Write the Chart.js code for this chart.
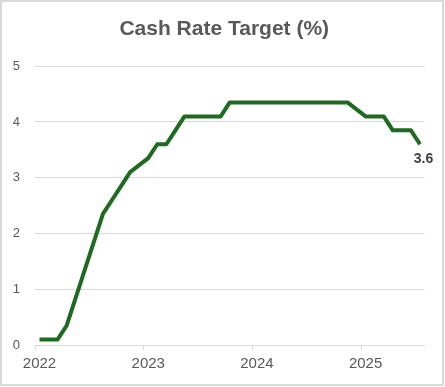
<!DOCTYPE html>
<html>
<head>
<meta charset="utf-8">
<script src="https://cdn.jsdelivr.net/npm/chart.js@4/dist/chart.umd.min.js"></script>
<style>
  html, body { margin: 0; padding: 0; background: #ffffff; }
  #wrap { position: relative; width: 445px; height: 387px; }
  #frame { position: absolute; left: 0; top: 0; width: 444px; height: 386px; box-sizing: border-box; border: 2px solid #d9d9d9; pointer-events: none; }
  canvas { position: absolute; left: 0; top: 0; }
</style>
</head>
<body>
<div id="wrap">
  <canvas id="c" width="445" height="387"></canvas>
  <div id="frame"></div>
</div>
<script>
// Monthly categories (RBA board meeting months), Feb 2022 .. Aug 2025
const months = [
  '2022-02','2022-03','2022-04','2022-05','2022-06','2022-07','2022-08','2022-09','2022-10','2022-11','2022-12',
  '2023-01','2023-02','2023-03','2023-04','2023-05','2023-06','2023-07','2023-08','2023-09','2023-10','2023-11','2023-12',
  '2024-01','2024-02','2024-03','2024-04','2024-05','2024-06','2024-07','2024-08','2024-09','2024-10','2024-11','2024-12',
  '2025-01','2025-02','2025-03','2025-04','2025-05','2025-06','2025-07','2025-08'
];
// Cash rate target (%) at each meeting; null = no meeting that month
const cashRate = [
  0.1, 0.1, 0.1, 0.35, 0.85, 1.35, 1.85, 2.35, 2.6, 2.85, 3.1,
  null, 3.35, 3.6, 3.6, 3.85, 4.1, 4.1, 4.1, 4.1, 4.1, 4.35, 4.35,
  null, 4.35, 4.35, null, 4.35, 4.35, null, 4.35, 4.35, null, 4.35, 4.35,
  null, 4.1, null, 4.1, 3.85, null, 3.85, 3.6
];
const yearLabels = ['2022', '2023', '2024', '2025'];
const yMin = 0, yMax = 5, yStep = 1;

const lastLabel = {
  id: 'lastLabel',
  afterDatasetsDraw(chart) {
    const meta = chart.getDatasetMeta(0);
    const i = cashRate.length - 1;
    const pt = meta.data[i];
    const ctx = chart.ctx;
    ctx.save();
    ctx.font = 'bold 14px "Liberation Sans", Arial, sans-serif';
    ctx.fillStyle = '#404040';
    ctx.textAlign = 'center';
    ctx.textBaseline = 'middle';
    ctx.fillText(String(cashRate[i]), pt.x + 3.5, pt.y + 15);
    ctx.restore();
  }
};

new Chart(document.getElementById('c'), {
  type: 'line',
  data: {
    labels: months,
    datasets: [{
      data: cashRate,
      borderColor: '#1d6b21',
      borderWidth: 4,
      pointRadius: 0,
      tension: 0,
      spanGaps: true,
      borderJoinStyle: 'round',
      borderCapStyle: 'butt'
    }]
  },
  options: {
    responsive: false,
    animation: false,
    layout: { padding: { left: 3.5, right: 0, top: 0, bottom: 0 } },
    plugins: {
      legend: { display: false },
      tooltip: { enabled: false },
      title: {
        display: true,
        text: 'Cash Rate Target (%)',
        color: '#595959',
        font: { family: '"Liberation Sans", Arial, sans-serif', size: 21, weight: 'bold', lineHeight: 1.2 },
        padding: { top: 17, bottom: 24 }
      }
    },
    scales: {
      x: {
        type: 'category',
        offset: true,
        afterFit(scale) { scale.height = 42; },
        grid: {
          offset: true,
          drawOnChartArea: false,
          drawTicks: true,
          tickLength: 5,
          color: (ctx) => (ctx.index % 12 === 0 ? '#d9d9d9' : 'rgba(0,0,0,0)'),
          lineWidth: 1
        },
        border: { display: true, color: '#d9d9d9', width: 1 },
        ticks: {
          autoSkip: false,
          maxRotation: 0,
          padding: 5,
          color: '#595959',
          font: { family: '"Liberation Sans", Arial, sans-serif', size: 15 },
          callback: (v, i) => (i % 12 === 0 ? yearLabels[i / 12] : '')
        }
      },
      y: {
        min: yMin,
        max: yMax,
        afterFit(scale) { scale.width = 31.5; },
        grid: { color: '#d9d9d9', lineWidth: 1, drawTicks: false },
        border: { display: false },
        ticks: {
          stepSize: yStep,
          padding: 15,
          color: '#595959',
          font: { family: '"Liberation Sans", Arial, sans-serif', size: 13 }
        }
      },
      yRight: {
        position: 'right',
        display: true,
        afterFit(scale) { scale.width = 20.5; },
        grid: { drawOnChartArea: false, drawTicks: false },
        border: { display: false },
        ticks: { display: false }
      }
    }
  },
  plugins: [lastLabel]
});
</script>
</body>
</html>
